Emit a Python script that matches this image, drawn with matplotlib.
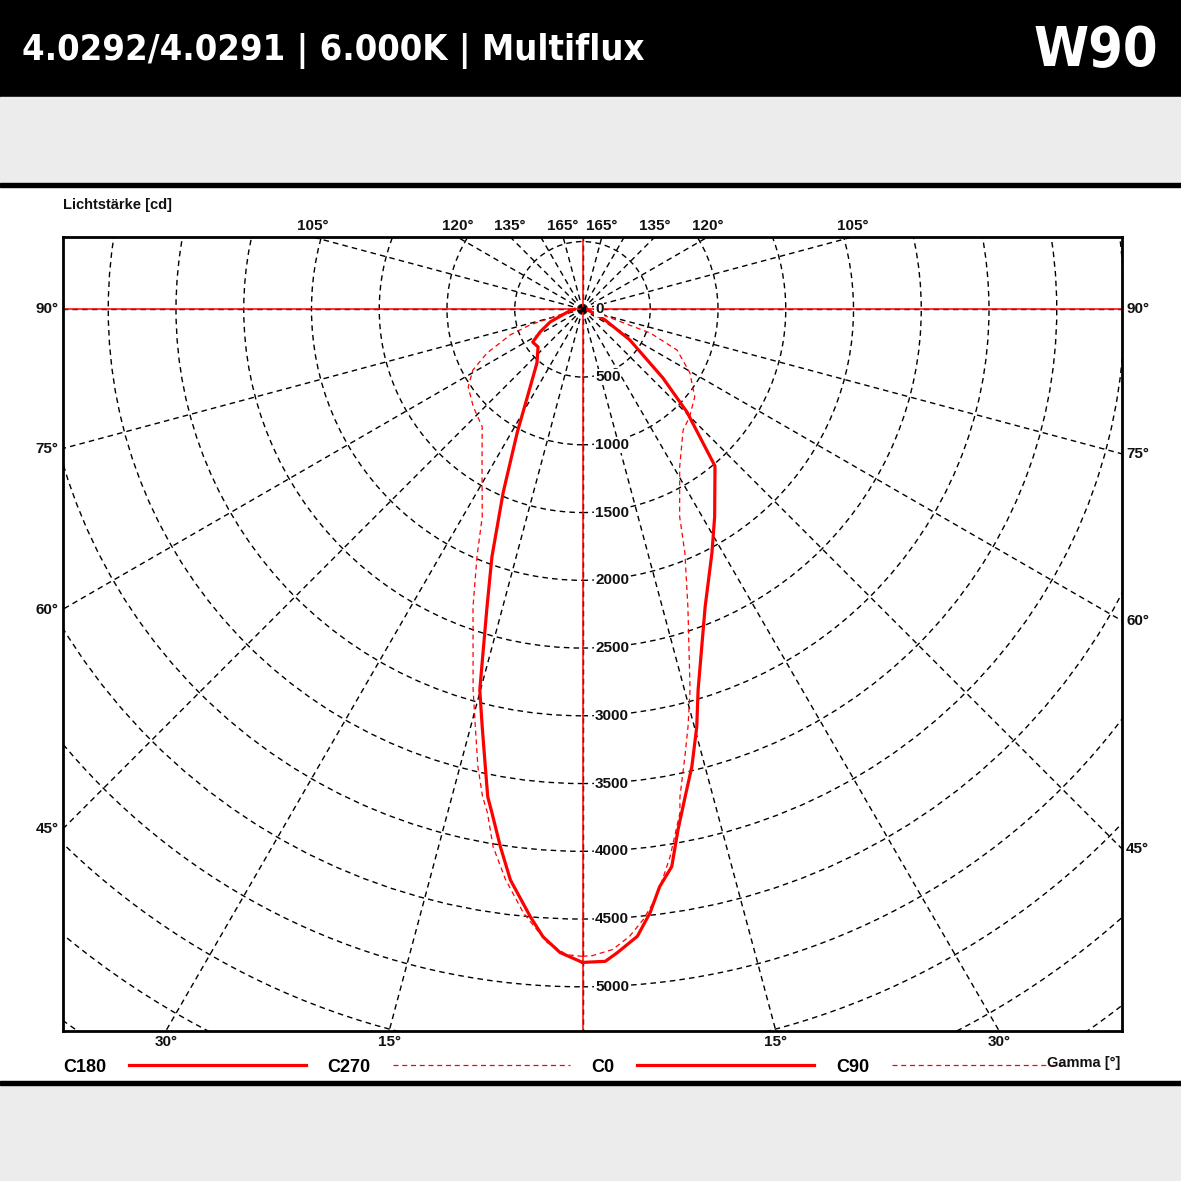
import numpy as np
import matplotlib
matplotlib.use("Agg")
import matplotlib.pyplot as plt
from matplotlib import font_manager
from matplotlib.patches import Circle, Rectangle

# ------------- data: gamma [deg] and intensity [cd] per C-plane -------------
gamma_c0 = [0, 2.0, 3.1, 5.0, 6.4, 7.6, 9.1, 10.4, 11.9, 13.45, 15.3, 16.9,
            22.4, 28.0, 32.5, 40.2, 45.5, 49.5, 57.1, 64.6, 90]
cd_c0 = [4820, 4815, 4755, 4645, 4480, 4300, 4165, 3905, 3675, 3470, 3195, 2935,
         2375, 2035, 1815, 1515, 1080, 780, 415, 185, 30]

gamma_c180 = [0, 2.0, 3.6, 4.9, 7.2, 8.7, 10.2, 11.0, 12.0, 13.5, 15.1, 17.8,
              20.1, 23.4, 27.9, 34.0, 40.3, 49.7, 56.6, 61.9, 68.7, 80, 90]
cd_c180 = [4820, 4750, 4640, 4500, 4245, 4010, 3775, 3665, 3450, 3170, 2910, 2305,
           1945, 1475, 1030, 690, 520, 430, 440, 355, 255, 110, 60]

gamma_c270 = [0, 1.4, 3.2, 5.6, 7.7, 9.45, 10.7, 11.6, 12.9, 14.4, 16.05, 20.2,
              23.1, 25.8, 32.5, 40.5, 48.3, 55.8, 61.0, 65.4, 70.5, 73.4, 79, 90]
cd_c270 = [4775, 4765, 4680, 4475, 4245, 4020, 3780, 3670, 3460, 3180, 2920, 2340,
           1985, 1700, 1380, 1140, 1080, 1020, 925, 775, 565, 405, 110, 50]

gamma_c90 = [0, 0.9, 2.7, 4.3, 5.7, 7.2, 9.1, 10.95, 11.3, 12.9, 14.2, 15.8,
             19.5, 22.8, 25.1, 31.7, 39.8, 44.9, 52.1, 59.4, 66.7, 70.7, 74.5, 90]
cd_c90 = [4775, 4770, 4730, 4640, 4525, 4370, 4090, 3785, 3670, 3385, 3175, 2915,
          2330, 1950, 1690, 1365, 1160, 1120, 1050, 920, 760, 530, 155, 40]

radial_ticks = [0, 500, 1000, 1500, 2000, 2500, 3000, 3500, 4000, 4500, 5000]
grid_circles = list(range(500, 7001, 500))
top_labels = [105, 120, 135, 165]
side_labels = [90, 75, 60, 45]
bottom_labels = [30, 15]

title = "4.0292/4.0291 | 6.000K | Multiflux"
badge = "W90"

# ------------- layout (pixels of the 1181 px canvas) -------------
W = H = 1181
frame_l, frame_r, frame_t, frame_b = 62.5, 1122, 237, 1031
org_x, org_y = 582.5, 309.3
px_per_cd = 0.1355


def fx(px):
    return px / W


def fy(px):
    return 1 - px / H


plt.rcParams['font.family'] = ['Liberation Sans', 'DejaVu Sans']

# header font: narrow face if there is one, otherwise condensed DejaVu
names = {f.name for f in font_manager.fontManager.ttflist}
if 'Liberation Sans Narrow' in names:
    head_font = dict(family='Liberation Sans Narrow')
    head_size, badge_size = 35, 44
else:
    head_font = dict(family='DejaVu Sans', stretch='condensed')
    head_size, badge_size = 26, 40

fig = plt.figure(figsize=(W / 100, H / 100), dpi=100, facecolor='white')

# background bands
gray = '#ebeceb'
fig.add_artist(Rectangle((0, fy(97)), 1, 97 / H, transform=fig.transFigure, color='black', zorder=0))
fig.add_artist(Rectangle((0, fy(183)), 1, 86 / H, transform=fig.transFigure, color=gray, zorder=0))
fig.add_artist(Rectangle((0, fy(187)), 1, 4 / H, transform=fig.transFigure, color='black', zorder=0))
fig.add_artist(Rectangle((0, 0), 1, (H - 1081) / H, transform=fig.transFigure, color=gray, zorder=0))
fig.add_artist(Rectangle((0, fy(1085)), 1, 4 / H, transform=fig.transFigure, color='black', zorder=0))

fig.text(fx(22), fy(51), title, color='white', fontsize=head_size, fontweight='bold',
         va='center', ha='left', **head_font)
fig.text(fx(1158), fy(51), badge, color='white', fontsize=badge_size, fontweight='bold',
         va='center', ha='right', **head_font)

# ------------- polar diagram axes -------------
ax = fig.add_axes([fx(frame_l), fy(frame_b), (frame_r - frame_l) / W, (frame_b - frame_t) / H])
xmin, xmax = (frame_l - org_x) / px_per_cd, (frame_r - org_x) / px_per_cd
ymin, ymax = (org_y - frame_b) / px_per_cd, (org_y - frame_t) / px_per_cd
ax.set_xlim(xmin, xmax)
ax.set_ylim(ymin, ymax)
ax.set_xticks([])
ax.set_yticks([])
for sp in ax.spines.values():
    sp.set_linewidth(2.0)
    sp.set_color('black')
    sp.set_zorder(6)

# dashed polar grid: circles every 500 cd, rays every 15 deg
grid_style = dict(color='black', lw=1.0, linestyle=(0, (4, 3)), zorder=1)
for r in grid_circles:
    ax.add_patch(Circle((0, 0), r, fill=False, **grid_style))
R = 10000
for a in range(0, 360, 15):
    t = np.radians(a)
    ax.plot([0, R * np.sin(t)], [0, -R * np.cos(t)], **grid_style)

ax.axhline(0, color='red', lw=1.1, zorder=2)
ax.axvline(0, color='red', lw=1.1, zorder=2)


def to_xy(gam, cd, side):
    g = np.radians(np.asarray(gam, dtype=float))
    c = np.asarray(cd, dtype=float)
    return side * c * np.sin(g), -c * np.cos(g)


x, y = to_xy(gamma_c180, cd_c180, -1)
l180, = ax.plot(x, y, color='red', lw=2.3, zorder=4, solid_joinstyle='round')
x, y = to_xy(gamma_c270, cd_c270, -1)
l270, = ax.plot(x, y, color='red', lw=0.9, linestyle=(0, (4, 3)), zorder=3)
x, y = to_xy(gamma_c0, cd_c0, 1)
l0, = ax.plot(x, y, color='red', lw=2.3, zorder=4, solid_joinstyle='round')
x, y = to_xy(gamma_c90, cd_c90, 1)
l90, = ax.plot(x, y, color='red', lw=0.9, linestyle=(0, (4, 3)), zorder=3)

ax.plot([0], [0], marker='s', ms=3, color='black', zorder=5)

# radial value labels
for v in radial_ticks:
    ax.annotate(str(v), xy=(0, -v), xytext=(9, 0), textcoords='offset points',
                ha='left', va='center', fontsize=11, fontweight='bold', color='#111111',
                bbox=dict(boxstyle='square,pad=0.05', fc='white', ec='none'), zorder=5)


# gamma labels outside the frame, where each ray leaves it
def edge_point(g, side):
    t = np.radians(g)
    dx, dy = side * np.sin(t), -np.cos(t)
    cands = []
    if dx > 1e-9:
        cands.append((xmax / dx, 'right'))
    if dx < -1e-9:
        cands.append((xmin / dx, 'left'))
    if dy > 1e-9:
        cands.append((ymax / dy, 'top'))
    if dy < -1e-9:
        cands.append((ymin / dy, 'bottom'))
    s, edge = min(cands)
    return s * dx, s * dy, edge


offsets = {'top': ((0, 3), 'center', 'bottom'), 'bottom': ((0, -3), 'center', 'top'),
           'left': ((-3, 0), 'right', 'center'), 'right': ((3, 0), 'left', 'center')}
for side in (-1, 1):
    for g in top_labels + side_labels + bottom_labels:
        px, py, edge = edge_point(g, side)
        off, ha, va = offsets[edge]
        ax.annotate(f"{g}°", xy=(px, py), xytext=off, textcoords='offset points',
                    ha=ha, va=va, fontsize=11, fontweight='bold', color='#111111',
                    annotation_clip=False)

fig.text(fx(63), fy(205), "Lichtstärke [cd]", fontsize=10.5, fontweight='bold',
         ha='left', va='center', color='#111111')
fig.text(fx(1120), fy(1063), "Gamma [°]", fontsize=10.5, fontweight='bold',
         ha='right', va='center', color='#111111', zorder=10)

leg = ax.legend([l180, l270, l0, l90], ['C180', 'C270', 'C0', 'C90'], ncol=4,
                loc='center left', bbox_to_anchor=(fx(63), fy(1067)),
                bbox_transform=fig.transFigure, frameon=False, markerfirst=False,
                handlelength=9.8, handletextpad=1.25, columnspacing=1.2,
                borderpad=0, borderaxespad=0,
                prop=dict(family=['Liberation Sans', 'DejaVu Sans'], weight='bold', size=13))

fig.savefig('out.png', dpi=100, facecolor='white')
